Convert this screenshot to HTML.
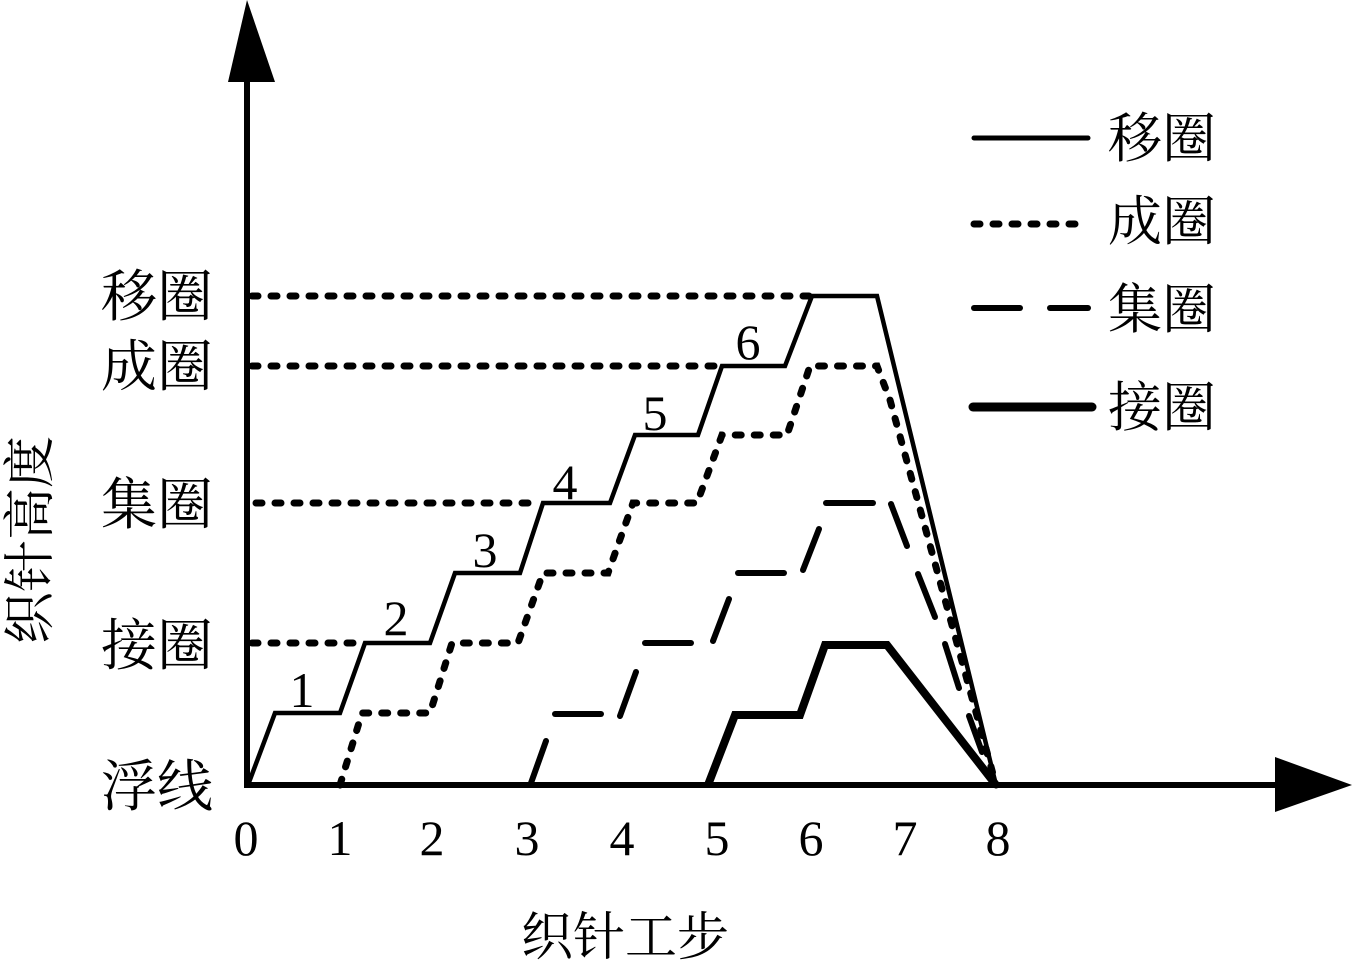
<!DOCTYPE html>
<html><head><meta charset="utf-8"><style>
html,body{margin:0;padding:0;background:#fff;}
svg{display:block;}
text{font-family:"Liberation Serif","Noto Serif CJK SC",serif;fill:#000;}
.cjk{font-family:"Noto Serif CJK SC","Liberation Serif",serif;}
</style></head><body>
<svg width="1356" height="967" viewBox="0 0 1356 967" xmlns="http://www.w3.org/2000/svg">
<line x1="247" y1="785" x2="247" y2="70" stroke="#000" stroke-width="6"/>
<polygon points="247,0 228,82 275,82" fill="#000"/>
<line x1="244" y1="785" x2="1285" y2="785" stroke="#000" stroke-width="6"/>
<polygon points="1352,785 1275,757 1275,812" fill="#000"/>

<g fill="none" stroke="#000" stroke-linejoin="miter">
<g stroke-width="7" stroke-dasharray="6 13" stroke-linecap="round">
<line x1="252" y1="296" x2="810" y2="296"/>
<line x1="252" y1="366" x2="720" y2="366"/>
<line x1="256" y1="503" x2="540" y2="503"/>
<line x1="252" y1="643" x2="362" y2="643"/>
<polyline points="340,785 362,713 430,713 452,643 518,643 543,573 608,573 633,503 697,503 722,435 787,435 810,366 877,366 890,400 996,785"/>
</g>
<polyline stroke-width="4.5" points="248,785 275,713 340,713 365,643 430,643 455,573 520,573 543,503 610,503 635,435 698,435 722,366 785,366 812,296 877,296 996,785"/>
<g stroke-width="6" stroke-linecap="round">
<line x1="531" y1="783" x2="546" y2="741"/>
<line x1="555" y1="714" x2="601" y2="714"/>
<line x1="620" y1="716" x2="636" y2="672"/>
<line x1="645" y1="643" x2="691" y2="643"/>
<line x1="713" y1="641" x2="729" y2="599"/>
<line x1="738" y1="573" x2="784" y2="573"/>
<line x1="803" y1="570" x2="819" y2="529"/>
<line x1="826" y1="503" x2="873" y2="503"/>
<line x1="891" y1="504" x2="907" y2="546"/>
<line x1="918" y1="574" x2="935" y2="617"/>
<line x1="945" y1="644" x2="959" y2="688"/>
<line x1="969" y1="716" x2="982" y2="752"/>
</g>
<polyline stroke-width="8" points="708,785 735,715 800,715 825,645 887,645 996,785"/>
</g>

<g font-size="50">
<text x="302" y="707" text-anchor="middle">1</text>
<text x="396" y="635" text-anchor="middle">2</text>
<text x="485" y="567" text-anchor="middle">3</text>
<text x="565" y="499" text-anchor="middle">4</text>
<text x="655" y="430" text-anchor="middle">5</text>
<text x="748" y="359" text-anchor="middle">6</text>
</g>
<g font-size="50" text-anchor="middle">
<text x="246" y="855">0</text>
<text x="340" y="855">1</text>
<text x="432" y="855">2</text>
<text x="527" y="855">3</text>
<text x="622" y="855">4</text>
<text x="717" y="855">5</text>
<text x="811" y="855">6</text>
<text x="905" y="855">7</text>
<text x="998" y="855">8</text>
</g>
<g font-size="56" text-anchor="middle" class="cjk">
<text x="157" y="316">移圈</text>
<text x="157" y="386">成圈</text>
<text x="157" y="524">集圈</text>
<text x="157" y="665">接圈</text>
<text x="157" y="806">浮线</text>
</g>
<text class="cjk" x="625" y="955" font-size="52" text-anchor="middle">织针工步</text>
<text class="cjk" transform="translate(48,540) rotate(-90)" font-size="52" text-anchor="middle">织针高度</text>

<g stroke="#000" stroke-linecap="round">
<line x1="974" y1="138" x2="1088" y2="138" stroke-width="5"/>
<line x1="974" y1="224" x2="1080" y2="224" stroke-width="7" stroke-dasharray="6 13"/>
<line x1="974" y1="308" x2="1020" y2="308" stroke-width="6"/>
<line x1="1050" y1="308" x2="1088" y2="308" stroke-width="6"/>
<line x1="973" y1="407" x2="1092" y2="407" stroke-width="9"/>
</g>
<g font-size="54" class="cjk">
<text x="1108" y="157">移圈</text>
<text x="1108" y="240">成圈</text>
<text x="1108" y="328">集圈</text>
<text x="1108" y="426">接圈</text>
</g>
</svg>
</body></html>
